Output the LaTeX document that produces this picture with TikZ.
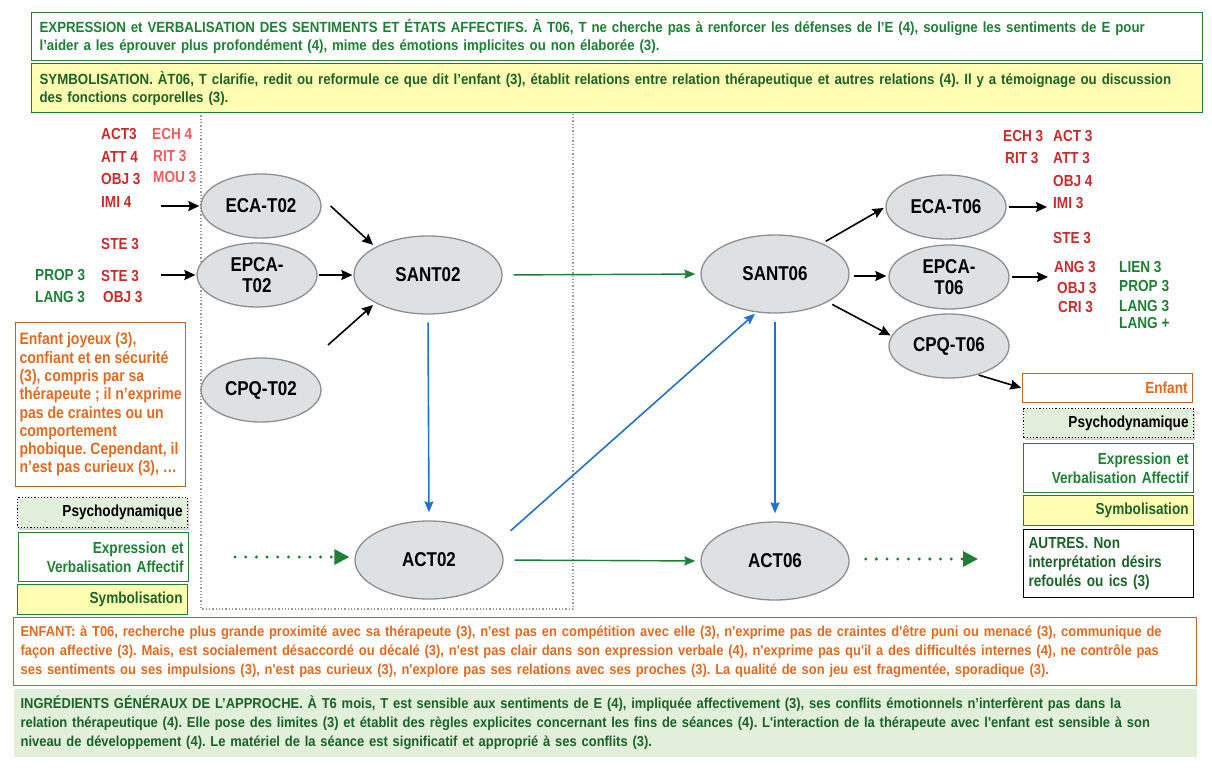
\documentclass[tikz,border=0pt]{standalone}
\usepackage{fontspec}
\setmainfont{Liberation Sans}[FakeStretch=0.85]
\newfontfamily\largeur{Liberation Sans}[FakeStretch=0.9]
\usetikzlibrary{shapes.geometric,arrows.meta,shadows}
\definecolor{vert}{HTML}{1E8035}
\definecolor{vertfonce}{HTML}{1B6228}
\definecolor{orangetxt}{HTML}{E2691E}
\definecolor{orangebord}{HTML}{C8621E}
\definecolor{rouge}{HTML}{CC2A2A}
\definecolor{rose}{HTML}{EE5C5C}
\definecolor{bleu}{HTML}{2272C8}
\definecolor{gris}{HTML}{DDE1E4}
\definecolor{grisbord}{HTML}{8E8E8E}
\definecolor{jaune}{HTML}{FFFDB2}
\definecolor{vertpale}{HTML}{E2EFDA}
\definecolor{pointille}{HTML}{9A9A9A}
\frenchspacing

\begin{document}
\begin{tikzpicture}[x=1pt,y=-1pt,
	ovale/.style={ellipse, draw=grisbord, line width=1.3pt, fill=gris, inner sep=0pt, minimum width=120pt, minimum height=64pt, align=center, font=\fontsize{20}{21}\selectfont\bfseries},
	grandovale/.style={ovale, minimum width=148pt, minimum height=78pt},
	cadre/.style={anchor=north west, inner xsep=8pt, inner ysep=0pt, line width=1.2pt, align=left, font=\largeur\fontsize{14.75}{18}\selectfont\bfseries},
	cadrebas/.style={cadre, inner xsep=7pt, text width=1169pt, minimum height=68pt, font=\largeur\fontsize{14.4}{19}\selectfont\bfseries},
	etiq/.style={anchor=west, inner sep=0pt, font=\fontsize{16}{18}\selectfont\bfseries},
	legende/.style={anchor=north west, inner xsep=5pt, inner ysep=0pt, line width=1.2pt, text width=160pt, align=right, font=\fontsize{16}{19}\selectfont\bfseries},
	fleche/.style={-{Stealth[length=11pt,width=10pt,inset=1.5pt]}, line width=1.6pt},
	flechebleue/.style={-{Stealth[length=11pt,width=9pt,inset=1.5pt]}, line width=1.6pt, bleu},
	flecheverte/.style={-{Stealth[length=11pt,width=9pt,inset=1.5pt]}, line width=1.4pt, vert},
	pointillee/.style={vert, line width=3.3pt, line cap=round, dash pattern=on 0pt off 10.7pt, -{Triangle[length=15pt,width=15pt]}}
	]
	\useasboundingbox (0,0) rectangle (1212,768);
	% cadre pointille T02
	\draw[pointille, dotted, line width=1.3pt] (201,112) rectangle (573,609);
	% bandeaux du haut et du bas
	\path
	(31,12) node[cadre, draw=vert, fill=white, text=vert, text width=1155pt, minimum height=48pt](expr){\mbox{EXPRESSION et VERBALISATION DES SENTIMENTS ET ÉTATS AFFECTIFS. À T06, T ne cherche pas à renforcer  les défenses de l’E (4), souligne les sentiments de E pour}\\ \mbox{l’aider a les éprouver plus profondément  (4), mime des émotions implicites ou non élaborée (3).}}
	(31,63) node[cadre, draw=vert, fill=jaune, text=vertfonce, text width=1155pt, minimum height=49pt](symb){\mbox{SYMBOLISATION. ÀT06,  T clarifie, redit ou reformule ce que dit l’enfant (3), établit  relations entre relation thérapeutique et autres relations (4). Il y a témoignage ou discussion}\\ \mbox{des fonctions corporelles (3).}}
	(13,617) node[cadrebas, draw=orangebord, fill=white, text=orangetxt](enfbas){\mbox{ENFANT: à T06, recherche plus grande proximité avec sa thérapeute (3), n'est pas en compétition avec elle (3), n'exprime pas de craintes d'être puni ou menacé (3), communique de}\\ \mbox{façon affective (3). Mais, est socialement désaccordé ou décalé (3), n'est pas clair dans son expression verbale (4), n'exprime pas qu'il a des difficultés internes (4), ne contrôle pas}\\ \mbox{ses sentiments ou ses impulsions (3), n'est pas curieux (3), n'explore pas ses relations avec ses proches (3). La qualité de son jeu est fragmentée, sporadique (3).}}
	(13,688) node[cadrebas, fill=vertpale, text=vertfonce](ingr){\mbox{INGRÉDIENTS GÉNÉRAUX DE L’APPROCHE. À T6 mois, T est sensible aux sentiments de E (4), impliquée affectivement (3), ses conflits émotionnels n’interfèrent pas dans la}\\ \mbox{relation thérapeutique (4). Elle pose des limites (3)  et établit des règles explicites concernant les fins de séances (4). L'interaction de la thérapeute avec l'enfant est sensible à son}\\ \mbox{niveau de développement (4). Le matériel de la séance est significatif et approprié à ses conflits (3).}}
	;
	% encadres de gauche
	\path
	(15,322) node[anchor=north west, draw=orangebord, line width=1.2pt, text=orangetxt, inner sep=0pt, minimum width=170pt, minimum height=164pt, align=left, font=\fontsize{16.5}{18.3}\selectfont\bfseries](enfg){Enfant joyeux (3),\\ confiant et en sécurité\\ (3), compris par sa\\ thérapeute ; il n'exprime\\ pas de craintes ou un\\ comportement\\ phobique. Cependant, il\\ n'est pas curieux (3), …}
	(17,497) node[legende, draw=black, dotted, fill=vertpale, drop shadow={shadow xshift=1pt, shadow yshift=-2pt, opacity=0.35}, minimum height=30pt](psyg){Psychodynamique}
	(18,532) node[legende, draw=vert, fill=white, text=vert, minimum height=49pt](exprg){Expression et\\ Verbalisation Affectif}
	(17,584) node[legende, draw=vert, fill=jaune, text=vertfonce, minimum height=30pt](symbg){Symbolisation}
	;
	% encadres de droite
	\path
	(1022,373) node[legende, draw=orangebord, fill=white, text=orangetxt, minimum height=29pt](enfd){Enfant}
	(1023,408) node[legende, draw=black, dotted, fill=vertpale, drop shadow={shadow xshift=1pt, shadow yshift=-2pt, opacity=0.35}, minimum height=29pt](psyd){Psychodynamique}
	(1023,443) node[legende, draw=vert, fill=white, text=vert, minimum height=49pt](exprd){Expression et\\ Verbalisation Affectif}
	(1023,495) node[legende, draw=vert, fill=jaune, text=vertfonce, minimum height=30pt](symbd){Symbolisation}
	(1023,529) node[legende, draw=black, fill=white, text=vertfonce, align=left, minimum height=68pt](autres){AUTRES. Non\\ interprétation désirs\\ refoulés ou ics (3)}
	;
	% ovales
	\path
	(261,206) node[ovale](eca02){ECA-T02}
	(257,275) node[ovale](epca02){EPCA-\\T02}
	(428,275) node[grandovale](sant02){SANT02}
	(261,390) node[ovale](cpq02){CPQ-T02}
	(429,560) node[grandovale](act02){ACT02}
	(775,274) node[grandovale](sant06){SANT06}
	(946,207) node[ovale](eca06){ECA-T06}
	(949,277) node[ovale](epca06){EPCA-\\T06}
	(949,346) node[ovale](cpq06){CPQ-T06}
	(775,561) node[grandovale](act06){ACT06}
	;
	% codes a gauche
	\path
	(101,134) node[etiq, rouge](g1){ACT3}
	(152,134) node[etiq, rose](g2){ECH 4}
	(101,157) node[etiq, rouge](g3){ATT 4}
	(153,156) node[etiq, rose](g4){RIT 3}
	(101,179) node[etiq, rouge](g5){OBJ 3}
	(153,177) node[etiq, rose](g6){MOU 3}
	(101,202) node[etiq, rouge](g7){IMI 4}
	(101,244) node[etiq, rouge](g8){STE 3}
	(101,276) node[etiq, rouge](g9){STE 3}
	(35,275) node[etiq, vert](g10){PROP 3}
	(103,297) node[etiq, rouge](g11){OBJ 3}
	(35,297) node[etiq, vert](g12){LANG 3}
	;
	% codes a droite
	\path
	(1003,136) node[etiq, rouge](d1){ECH 3}
	(1053,136) node[etiq, rouge](d2){ACT 3}
	(1005,158) node[etiq, rouge](d3){RIT 3}
	(1053,158) node[etiq, rouge](d4){ATT 3}
	(1053,181) node[etiq, rouge](d5){OBJ 4}
	(1053,203) node[etiq, rouge](d6){IMI 3}
	(1053,238) node[etiq, rouge](d7){STE 3}
	(1054,267) node[etiq, rouge](d8){ANG 3}
	(1119,267) node[etiq, vert](d9){LIEN 3}
	(1057,288) node[etiq, rouge](d10){OBJ 3}
	(1119,286) node[etiq, vert](d11){PROP 3}
	(1058,307) node[etiq, rouge](d12){CRI 3}
	(1119,306) node[etiq, vert](d13){LANG 3}
	(1119,323) node[etiq, vert](d14){LANG +}
	;
	\coordinate (in1) at (161,206);
	\coordinate (in2) at (161,275);
	\coordinate (libre) at (328,345);
	\coordinate (pt1) at (235,557);
	\coordinate (pt2) at (978,559);
	\coordinate (out1) at (1047,207);
	\coordinate (out2) at (1048,277);
	% fleches noires
	\draw[fleche, shorten >=1pt] (in1)--(eca02.west);
	\draw[fleche, shorten >=1pt] (in2)--(epca02.west);
	\draw[fleche, shorten >=3pt] ([xshift=9pt]eca02.east)--(sant02.152);
	\draw[fleche, shorten <=1pt, shorten >=1pt] (epca02.east)--(sant02.west);
	\draw[fleche, shorten >=3pt] (libre)--(sant02.208);
	\draw[fleche, shorten <=4pt, shorten >=2pt] (sant06.33)--(eca06.west);
	\draw[fleche, shorten <=4pt, shorten >=2pt] ([yshift=-2pt]sant06.east)--([yshift=-2pt]sant06.east -| epca06.west);
	\draw[fleche, shorten <=5pt, shorten >=1pt] (sant06.-28)--(cpq06.170);
	\draw[fleche, shorten <=1pt, shorten >=1pt] (cpq06.-45)--(enfd.west);
	\draw[fleche, shorten <=2pt] (eca06.east)--(out1);
	\draw[fleche, shorten <=2pt] (epca06.east)--(out2);
	% fleches bleues
	\draw[flechebleue, shorten <=8pt, shorten >=8pt] (sant02.south)--(act02.north);
	\draw[flechebleue, shorten <=8pt, shorten >=8pt] (sant06.south)--(act06.north);
	\draw[flechebleue] ([xshift=31pt]act02.30)--([xshift=-20pt]sant06.south);
	% fleches vertes
	\draw[flecheverte, shorten <=11pt, shorten >=5pt] (sant02.east)--(sant06.west);
	\draw[flecheverte, shorten <=11pt, shorten >=5pt] (act02.east)--(act06.west);
	\draw[pointillee, shorten >=5pt] (pt1)--(pt1 -| act02.west);
	\draw[pointillee, shorten <=16pt] (act06.east |- pt2)--(pt2);
\end{tikzpicture}
\end{document}
